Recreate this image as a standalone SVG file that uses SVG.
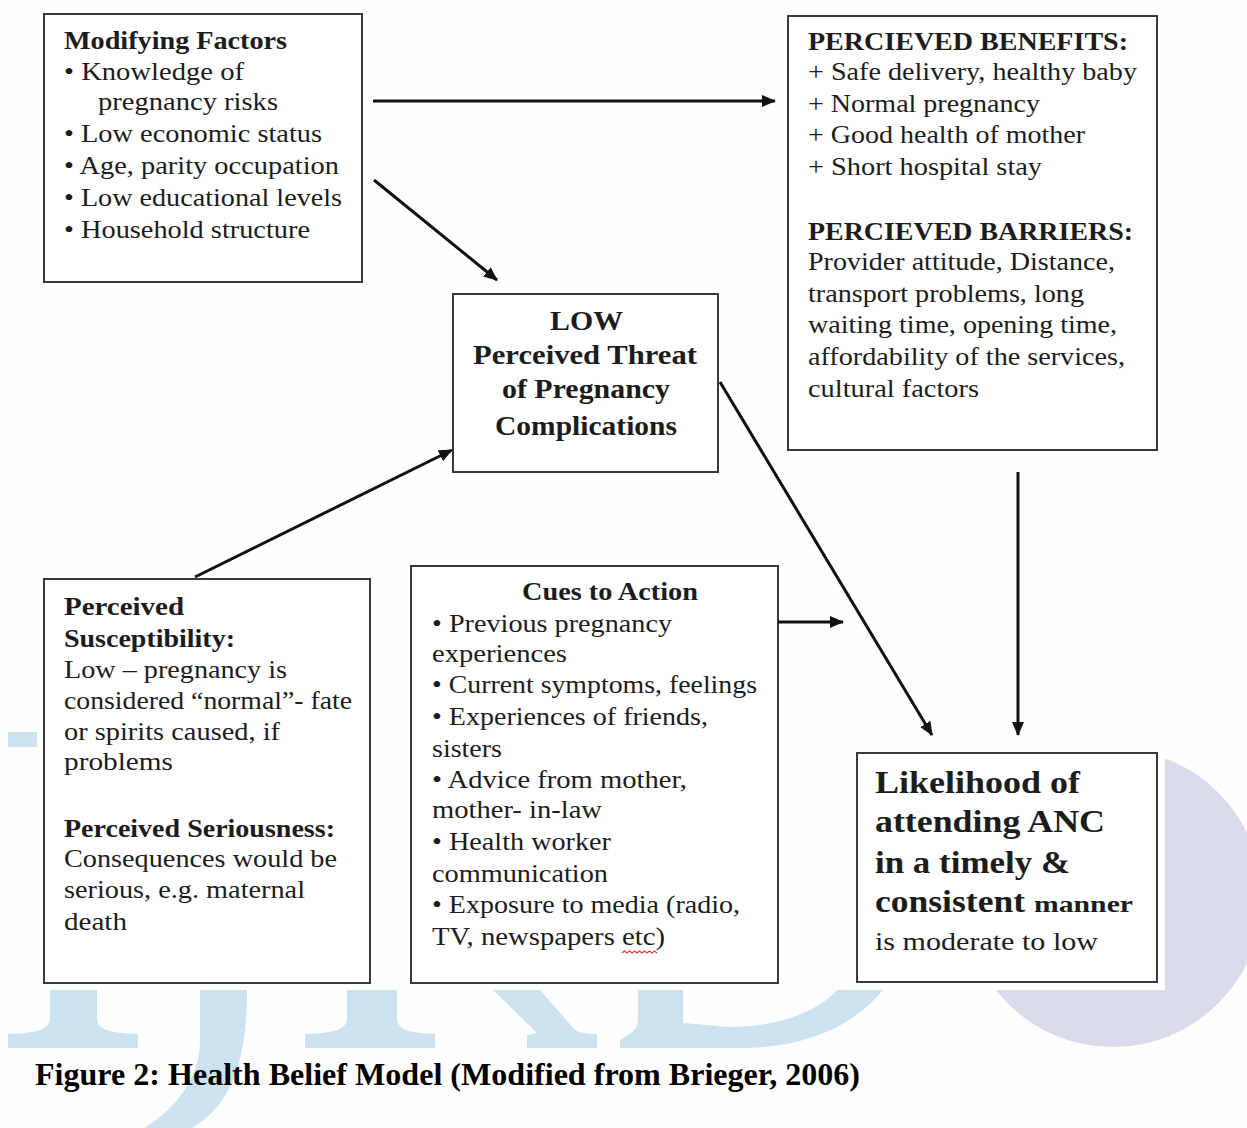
<svg xmlns="http://www.w3.org/2000/svg" width="1247" height="1128" viewBox="0 0 1247 1128">
<style>
.box{fill:#fff;stroke:#3a3a3a;stroke-width:2}
.pad{fill:#fff}
.t{font-family:"Liberation Serif","Times New Roman",serif;font-size:26px;fill:#1c1c1c}
.b{font-weight:bold}
.big{font-size:31px}
.thr{font-size:28px}
.cap{font-family:"Liberation Serif","Times New Roman",serif;font-weight:bold;font-size:31px;fill:#000}
.wm{fill:#cce2ee}
.conn line{stroke:#111;stroke-width:3}
</style>
<defs>
<marker id="ah" viewBox="0 0 14 12" refX="13" refY="6" markerWidth="14" markerHeight="12" markerUnits="userSpaceOnUse" orient="auto">
<path d="M0,0 L14,6 L0,12 z" fill="#111"/>
</marker>
</defs>
<rect x="0" y="0" width="1247" height="1128" fill="#fefefe"/>
<g id="watermark">
<circle cx="1113" cy="898" r="149" fill="#dadbea"/>
<rect class="wm" x="8" y="732" width="30" height="15"/>
<path class="wm" d="M50,990 L97,990 L97,1018 C97,1030 110,1033 138,1034 L138,1048 L8,1048 L8,1034 C36,1033 50,1030 50,1018 Z"/>
<path class="wm" d="M200,990 L247,990 C247,1060 232,1105 192,1128 L145,1128 C180,1105 200,1075 200,1040 Z"/>
<path class="wm" d="M347,990 L397,990 L397,1018 C397,1030 410,1033 435,1034 L435,1048 L305,1048 L305,1034 C333,1033 347,1030 347,1018 Z"/>
<path class="wm" d="M493,990 L540,990 L575,1030 C580,1033 590,1034 597,1034 L597,1048 L527,1048 L527,1035 L537,1033 Z"/>
<path class="wm" d="M620,1048 L620,1040 C630,1034 638,1030 638,1020 L638,990 L683,990 L683,1023 L730,1027 C780,1027 820,1010 837,990 L883,990 C850,1030 800,1048 740,1048 Z"/>
</g>
<g id="node-modifying">
<rect class="pad" x="37" y="7" width="333" height="283"/>
<rect class="box" x="44" y="14" width="318" height="268"/>
<text class="t b" x="64" y="49" textLength="223" lengthAdjust="spacingAndGlyphs">Modifying Factors</text>
<text class="t" x="64" y="80" textLength="180" lengthAdjust="spacingAndGlyphs">• Knowledge of</text>
<text class="t" x="98" y="110" textLength="180" lengthAdjust="spacingAndGlyphs">pregnancy risks</text>
<text class="t" x="64" y="142" textLength="258" lengthAdjust="spacingAndGlyphs">• Low economic status</text>
<text class="t" x="64" y="174" textLength="275" lengthAdjust="spacingAndGlyphs">• Age, parity occupation</text>
<text class="t" x="64" y="206" textLength="278" lengthAdjust="spacingAndGlyphs">• Low educational levels</text>
<text class="t" x="64" y="238" textLength="246" lengthAdjust="spacingAndGlyphs">• Household structure</text>
</g>
<g id="node-benefits-barriers">
<rect class="pad" x="781" y="8" width="384" height="450"/>
<rect class="box" x="788" y="16" width="369" height="434"/>
<text class="t b" x="808" y="50" textLength="320" lengthAdjust="spacingAndGlyphs">PERCIEVED BENEFITS:</text>
<text class="t" x="808" y="80" textLength="329" lengthAdjust="spacingAndGlyphs">+ Safe delivery, healthy baby</text>
<text class="t" x="808" y="112" textLength="232" lengthAdjust="spacingAndGlyphs">+ Normal pregnancy</text>
<text class="t" x="808" y="143" textLength="277" lengthAdjust="spacingAndGlyphs">+ Good health of mother</text>
<text class="t" x="808" y="175" textLength="234" lengthAdjust="spacingAndGlyphs">+ Short hospital stay</text>
<text class="t b" x="808" y="240" textLength="325" lengthAdjust="spacingAndGlyphs">PERCIEVED BARRIERS:</text>
<text class="t" x="808" y="270" textLength="307" lengthAdjust="spacingAndGlyphs">Provider attitude, Distance,</text>
<text class="t" x="808" y="302" textLength="276" lengthAdjust="spacingAndGlyphs">transport problems, long</text>
<text class="t" x="808" y="333" textLength="309" lengthAdjust="spacingAndGlyphs">waiting time, opening time,</text>
<text class="t" x="808" y="365" textLength="317" lengthAdjust="spacingAndGlyphs">affordability of the services,</text>
<text class="t" x="808" y="397" textLength="171" lengthAdjust="spacingAndGlyphs">cultural factors</text>
</g>
<g id="node-threat">
<rect class="pad" x="446" y="287" width="280" height="193"/>
<rect class="box" x="453" y="294" width="265" height="178"/>
<text class="t b thr" x="550" y="330" textLength="73" lengthAdjust="spacingAndGlyphs">LOW</text>
<text class="t b thr" x="473" y="364" textLength="224" lengthAdjust="spacingAndGlyphs">Perceived Threat</text>
<text class="t b thr" x="502" y="398" textLength="168" lengthAdjust="spacingAndGlyphs">of Pregnancy</text>
<text class="t b thr" x="495" y="435" textLength="182" lengthAdjust="spacingAndGlyphs">Complications</text>
</g>
<g id="node-susceptibility">
<rect class="pad" x="37" y="572" width="341" height="418"/>
<rect class="box" x="44" y="579" width="326" height="404"/>
<text class="t b" x="64" y="615" textLength="120" lengthAdjust="spacingAndGlyphs">Perceived</text>
<text class="t b" x="64" y="647" textLength="171" lengthAdjust="spacingAndGlyphs">Susceptibility:</text>
<text class="t" x="64" y="678" textLength="223" lengthAdjust="spacingAndGlyphs">Low – pregnancy is</text>
<text class="t" x="64" y="709" textLength="288" lengthAdjust="spacingAndGlyphs">considered “normal”- fate</text>
<text class="t" x="64" y="740" textLength="216" lengthAdjust="spacingAndGlyphs">or spirits caused, if</text>
<text class="t" x="64" y="770" textLength="109" lengthAdjust="spacingAndGlyphs">problems</text>
<text class="t b" x="64" y="837" textLength="271" lengthAdjust="spacingAndGlyphs">Perceived Seriousness:</text>
<text class="t" x="64" y="867" textLength="273" lengthAdjust="spacingAndGlyphs">Consequences would be</text>
<text class="t" x="64" y="898" textLength="241" lengthAdjust="spacingAndGlyphs">serious, e.g. maternal</text>
<text class="t" x="64" y="930" textLength="63" lengthAdjust="spacingAndGlyphs">death</text>
</g>
<g id="node-cues">
<rect class="pad" x="404" y="559" width="381" height="431"/>
<rect class="box" x="411" y="566" width="367" height="417"/>
<text class="t b" x="522" y="600" textLength="176" lengthAdjust="spacingAndGlyphs">Cues to Action</text>
<text class="t" x="432" y="632" textLength="240" lengthAdjust="spacingAndGlyphs">• Previous pregnancy</text>
<text class="t" x="432" y="662" textLength="135" lengthAdjust="spacingAndGlyphs">experiences</text>
<text class="t" x="432" y="693" textLength="325" lengthAdjust="spacingAndGlyphs">• Current symptoms, feelings</text>
<text class="t" x="432" y="725" textLength="276" lengthAdjust="spacingAndGlyphs">• Experiences of friends,</text>
<text class="t" x="432" y="757" textLength="70" lengthAdjust="spacingAndGlyphs">sisters</text>
<text class="t" x="432" y="788" textLength="255" lengthAdjust="spacingAndGlyphs">• Advice from mother,</text>
<text class="t" x="432" y="818" textLength="170" lengthAdjust="spacingAndGlyphs">mother- in-law</text>
<text class="t" x="432" y="850" textLength="179" lengthAdjust="spacingAndGlyphs">• Health worker</text>
<text class="t" x="432" y="882" textLength="176" lengthAdjust="spacingAndGlyphs">communication</text>
<text class="t" x="432" y="913" textLength="308" lengthAdjust="spacingAndGlyphs">• Exposure to media (radio,</text>
<text class="t" x="432" y="945" textLength="233" lengthAdjust="spacingAndGlyphs">TV, newspapers etc)</text>
<path d="M622,953 l2.5,-2 l2.5,2 l2.5,-2 l2.5,2 l2.5,-2 l2.5,2 l2.5,-2 l2.5,2 l2.5,-2 l2.5,2 l2.5,-2 l2.5,2 l2.5,-2 l2.5,2" fill="none" stroke="#e03a3a" stroke-width="1.2"/>
</g>
<g id="node-likelihood">
<rect class="pad" x="850" y="746" width="315" height="244"/>
<rect class="box" x="857" y="753" width="300" height="229"/>
<text class="t b big" x="875" y="793" textLength="205" lengthAdjust="spacingAndGlyphs">Likelihood of</text>
<text class="t b big" x="875" y="832" textLength="230" lengthAdjust="spacingAndGlyphs">attending ANC</text>
<text class="t b big" x="875" y="873" textLength="195" lengthAdjust="spacingAndGlyphs">in a timely &amp;</text>
<text class="t b big" x="875" y="912" textLength="150" lengthAdjust="spacingAndGlyphs">consistent</text>
<text class="t b" x="1034" y="912" textLength="99" lengthAdjust="spacingAndGlyphs" style="font-size:24px">manner</text>
<text class="t" x="875" y="950" textLength="223" lengthAdjust="spacingAndGlyphs">is moderate to low</text>
</g>
<g id="connectors" class="conn">
<line x1="373" y1="101" x2="775" y2="101" marker-end="url(#ah)"/>
<line x1="374" y1="180" x2="497" y2="280" marker-end="url(#ah)"/>
<line x1="195" y1="577" x2="452" y2="450" marker-end="url(#ah)"/>
<line x1="720" y1="382" x2="932" y2="735" marker-end="url(#ah)"/>
<line x1="1018" y1="472" x2="1018" y2="735" marker-end="url(#ah)"/>
<line x1="778" y1="622" x2="843" y2="622" marker-end="url(#ah)"/>
</g>
<text class="cap" x="35" y="1085" textLength="825" lengthAdjust="spacingAndGlyphs">Figure 2: Health Belief Model (Modified from Brieger, 2006)</text>
</svg>
